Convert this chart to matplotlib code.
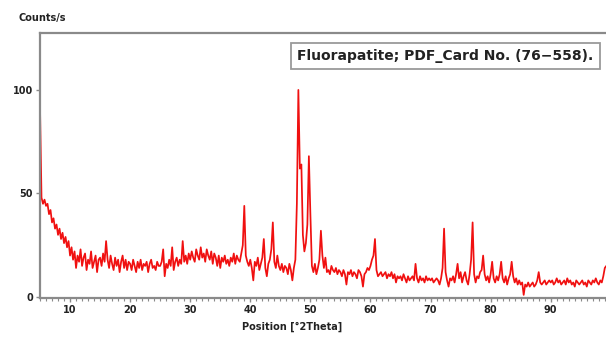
import numpy as np
import matplotlib
matplotlib.use("Agg")
import matplotlib.pyplot as plt
from matplotlib.ticker import MultipleLocator

# scan grid: 5.00 .. 99.75 deg 2theta, 0.25 deg step
two_theta = np.arange(5.0, 100.0, 0.25)

# counts, one row per 5 deg
counts = [
    92, 48, 45, 47, 44, 45, 40, 42, 36, 38, 33, 35, 30, 33, 28, 31, 26, 29, 24, 27,    # 5
    20, 24, 18, 22, 14, 20, 17, 23, 15, 19, 21, 13, 18, 16, 22, 14, 17, 20, 12, 18,    # 10
    19, 15, 21, 17, 27, 18, 14, 20, 16, 13, 19, 15, 18, 12, 17, 20, 14, 18, 13, 17,    # 15
    16, 13, 18, 15, 12, 17, 14, 18, 13, 16, 15, 17, 12, 16, 18, 14, 15, 13, 17, 15,    # 20
    15, 17, 23, 10, 16, 14, 18, 15, 24, 13, 17, 19, 15, 18, 16, 27, 17, 20, 16, 21,    # 25
    18, 22, 19, 17, 23, 20, 18, 24, 19, 21, 17, 23, 20, 18, 22, 16, 21, 19, 15, 20,    # 30
    14, 19, 17, 20, 16, 18, 15, 19, 17, 21, 16, 20, 18, 17, 21, 25, 44, 20, 17, 15,    # 35
    18, 14, 8, 17, 15, 19, 13, 16, 19, 28, 14, 10, 16, 18, 23, 36, 17, 14, 20, 15,    # 40
    13, 16, 12, 15, 14, 11, 16, 13, 8, 14, 18, 45, 100, 62, 64, 30, 22, 26, 35, 68,    # 45
    40, 15, 12, 16, 11, 14, 18, 32, 20, 14, 19, 12, 13, 11, 15, 13, 12, 14, 11, 13,    # 50
    12, 10, 13, 11, 6, 12, 11, 13, 10, 12, 11, 9, 13, 12, 10, 5, 11, 12, 14, 13,       # 55
    15, 18, 20, 28, 13, 10, 11, 12, 10, 11, 12, 9, 11, 10, 12, 9, 11, 7, 10, 9,        # 60
    10, 8, 11, 9, 7, 10, 8, 9, 10, 8, 16, 9, 7, 10, 8, 9, 7, 10, 8, 9,                 # 65
    8, 9, 7, 8, 9, 8, 6, 9, 14, 33, 12, 8, 5, 9, 8, 10, 7, 11, 16, 9,                  # 70
    12, 7, 10, 12, 8, 6, 11, 18, 36, 11, 7, 10, 9, 12, 13, 20, 11, 8, 10, 7,           # 75
    11, 17, 9, 7, 10, 8, 11, 17, 9, 7, 10, 6, 9, 11, 17, 10, 7, 9, 6, 8,               # 80
    6, 7, 1, 6, 5, 7, 5, 6, 7, 5, 6, 8, 12, 7, 6, 7, 8, 6, 7, 8,                       # 85
    7, 8, 6, 7, 9, 7, 8, 6, 7, 8, 6, 9, 7, 8, 6, 7, 5, 8, 7, 6,                        # 90
    7, 8, 6, 7, 5, 8, 7, 6, 8, 7, 9, 7, 6, 8, 7, 10, 14, 15, 15, 15,                   # 95
]

x_ticks = [10, 20, 30, 40, 50, 60, 70, 80, 90]
y_ticks = [0, 50, 100]
card_label = "Fluorapatite; PDF_Card No. (76\u2212558)."

spine_grey = "#8a8a8a"

fig = plt.figure(figsize=(6.06, 3.37), dpi=100)
ax = fig.add_axes([40 / 606, 1 - 298 / 337, 1 - 40 / 606, (298 - 33) / 337])

ax.plot(two_theta, counts, color="#f01010", lw=1.25)

ax.set_xlim(5.0, 99.2)
ax.set_ylim(-0.5, 127.5)
ax.set_xticks(x_ticks)
ax.set_yticks(y_ticks)
ax.xaxis.set_minor_locator(MultipleLocator(1))

for side in ("left", "bottom", "top"):
    ax.spines[side].set_color(spine_grey)
    ax.spines[side].set_linewidth(1.6)
ax.spines["right"].set_visible(False)

ax.tick_params(axis="both", which="major", labelsize=7, length=3, width=1,
               color=spine_grey, pad=2)
ax.tick_params(axis="x", which="minor", length=2, width=0.8, color=spine_grey)
for lbl in ax.get_xticklabels() + ax.get_yticklabels():
    lbl.set_fontweight("bold")
    lbl.set_color("#222222")

fig.text(42 / 606, 1 - 18 / 337, "Counts/s", ha="center", va="center",
         fontsize=7, fontweight="bold", color="#222222")
fig.text(292 / 606, 1 - 327 / 337, "Position [\u00b02Theta]", ha="center",
         va="center", fontsize=7, fontweight="bold", color="#222222")

# PDF card legend box, top right
ax.text(0.716, 0.913, card_label, transform=ax.transAxes,
        ha="center", va="center", fontsize=10, fontweight="bold", color="#222222",
        bbox=dict(boxstyle="square,pad=0.45", fc="white", ec="#9a9a9a", lw=1.3))

fig.savefig("out.png", dpi=100)
